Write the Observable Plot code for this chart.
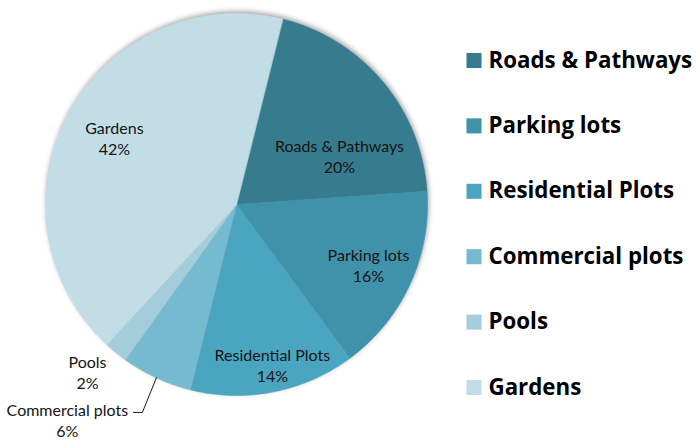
<!DOCTYPE html>
<html><head><meta charset="utf-8">
<script src="https://cdn.jsdelivr.net/npm/d3@7"></script>
<script src="https://cdn.jsdelivr.net/npm/@observablehq/plot@0.6"></script>
<style>
html,body{margin:0;padding:0;background:#fff;}
#chart svg{display:block;}
</style></head><body><div id="chart"></div>
<script>
const categories = ["Roads & Pathways","Parking lots","Residential Plots","Commercial plots","Pools","Gardens"];
const percents = [20,16,14,6,2,42];
const colors = ["#367C8E","#4092AA","#4AA6C0","#76BACF","#A4CDDC","#C2DDE6"];
// label placement (layout): angle in degrees clockwise from top, distance as fraction of radius
const labelAngles = [64.8,114.6,167.4,218.2,221.7,298.6];
const labelRadii = [0.596,0.760,0.861,1.432,1.173,0.728];

const W = 700, H = 446, cx = 236, cy = 204, R = 191, startDeg = 14;
const rad = d => d * Math.PI / 180;
const polar = (a, r) => [cx + r * Math.sin(a), cy - r * Math.cos(a)];

const arcs = d3.pie().sort(null).value(d => d)
  .startAngle(rad(startDeg)).endAngle(rad(startDeg) + 2 * Math.PI)(percents);

const slicePts = [];
arcs.forEach((p, i) => {
  const name = categories[i];
  slicePts.push({name, x: cx, y: cy});
  const n = Math.max(2, Math.ceil((p.endAngle - p.startAngle) / (Math.PI / 360)));
  for (let k = 0; k <= n; k++) {
    const a = p.startAngle + (p.endAngle - p.startAngle) * k / n;
    const [x, y] = polar(a, R);
    slicePts.push({name, x, y});
  }
});

const labels = categories.map((name, i) => {
  const [x, y] = polar(rad(labelAngles[i]), labelRadii[i] * R);
  return {name, x, y, text: `${name}\n${percents[i]}%`};
});

// leader line for the "Commercial plots" label
const ci = 3;
const cMid = (arcs[ci].startAngle + arcs[ci].endAngle) / 2;
const [rx, ry] = polar(cMid, R);
const lab = labels[ci];
const leader = [
  {x: lab.x + 66, y: lab.y - 7},
  {x: lab.x + 75, y: lab.y - 7},
  {x: rx, y: ry}
];

const legend = categories.map((name, i) => ({name, y: 60 + i * 65.4}));

const chart = Plot.plot({
  width: W, height: H, margin: 0,
  x: {domain: [0, W], range: [0, W], axis: null},
  y: {domain: [0, H], range: [0, H], axis: null},
  color: {domain: categories, range: colors},
  style: {fontFamily: "Lato, 'Open Sans', sans-serif", background: "#fff", overflow: "visible"},
  marks: [
    Plot.line(slicePts, {x: "x", y: "y", z: "name", fill: "name", stroke: "name", strokeWidth: 0.6, curve: "linear-closed"}),
    Plot.line(leader, {x: "x", y: "y", stroke: "#1a1a1a", strokeWidth: 1}),
    Plot.text(labels, {x: "x", y: "y", text: "text", fontSize: 16, lineHeight: 1.32, fill: "#141414"}),
    Plot.dot(legend, {x: () => 473.5, y: "y", symbol: "square", r: 8.5, fill: "name", stroke: "none"}),
    Plot.text(legend, {x: () => 488, y: "y", text: "name", textAnchor: "start", fontSize: 22.3, fontWeight: "bold", fill: "#000", fontFamily: "'Open Sans', Lato, sans-serif"})
  ]
});
document.getElementById("chart").appendChild(chart);
const pieG = chart.querySelector('g[aria-label="line"]');
if (pieG) pieG.style.filter = "drop-shadow(1px -2px 2.5px rgba(0,0,0,0.35))";
</script>
</body></html>
